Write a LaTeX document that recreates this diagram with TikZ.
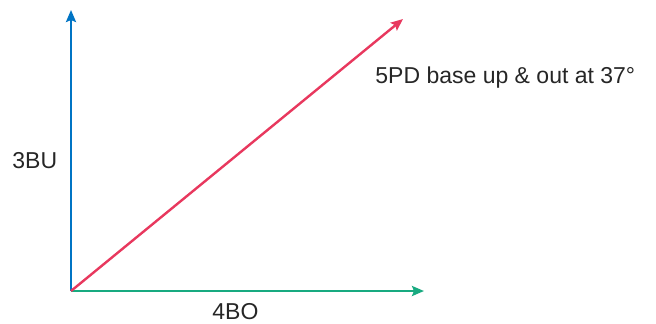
\documentclass[tikz,border=0pt]{standalone}
\usepackage{fontspec}
\setmainfont{Liberation Sans}
\usetikzlibrary{arrows.meta,positioning}
\definecolor{bublue}{RGB}{0,116,196}
\definecolor{bored}{RGB}{232,56,94}
\definecolor{bogreen}{RGB}{24,170,128}

\begin{document}
\begin{tikzpicture}[
    x=0.5pt,y=0.5pt,
    vec/.style={line width=1.2pt,-{Stealth[length=6pt,width=5pt,inset=1pt]}},
    lbl/.style={inner sep=0pt,anchor=base west,font=\fontsize{11.5pt}{13pt}\selectfont,text=black!85}
  ]
    \useasboundingbox (0,0) rectangle (656,323);
    % end points of the prism vectors
    \coordinate (origin) at (71,32);
    \coordinate (uptip) at (71,313);
    \coordinate (outtip) at (424,32);
    \coordinate (restip) at (403,304);

    \draw[vec,bublue] (origin) -- (uptip);
    \draw[vec,bogreen] (origin) -- (outtip);
    \draw[vec,bored] (origin) -- (restip);

    \node[lbl] (baseup) at (12,155) {3BU};
    \node[lbl] (baseout) at (212,4) {4BO};
    \node[lbl] (result) at (375,240) {5PD base up \& out at 37°};
  \end{tikzpicture}
\end{document}
